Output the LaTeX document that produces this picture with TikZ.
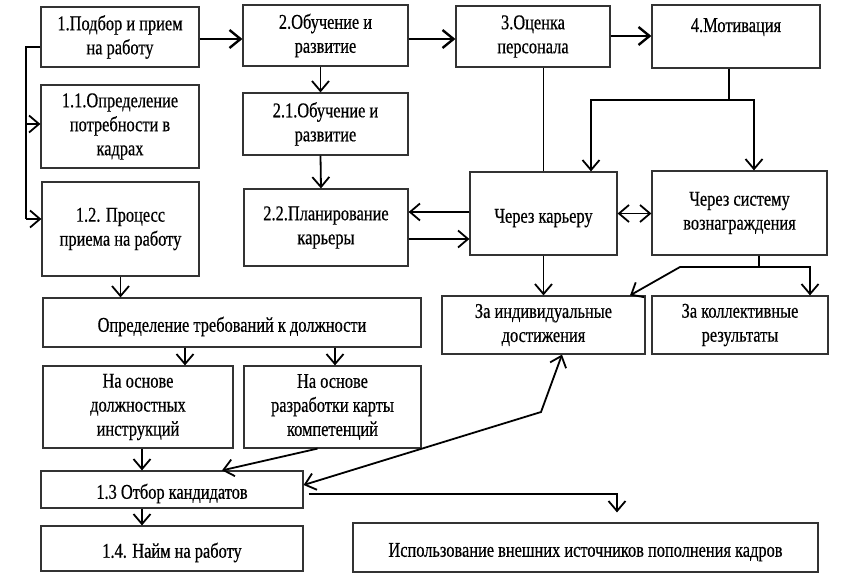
\documentclass[tikz,border=0pt]{standalone}
\usepackage{fontspec}
\setmainfont{Liberation Serif}[FakeStretch=0.78,FakeBold=0.5]
\usetikzlibrary{arrows.meta,calc}
\begin{document}
\begin{tikzpicture}[x=1pt,y=1pt,
  box/.style={draw=black!80, line width=1.2pt, align=center, inner sep=1pt,
    font=\fontsize{21}{24}\selectfont, execute at begin node={\rule{0pt}{23pt}}},
  tip/.style={Straight Barb[length=10pt,width=17pt,line width=1.8pt]},
  arr/.style={line width=1.8pt, -{Straight Barb[length=10pt,width=17pt,line width=1.8pt]}},
  thk/.style={line width=2.6pt, -{Straight Barb[length=11pt,width=18pt,line width=2.4pt]}},
  arrb/.style={line width=1.8pt, {Straight Barb[length=10pt,width=17pt,line width=1.8pt]}-{Straight Barb[length=10pt,width=17pt,line width=1.8pt]}},
  ln/.style={line width=1.8pt}]
\useasboundingbox (0,0) rectangle (866,-580);
% boxes
\node[box, minimum width=158, minimum height=60] (b1) at (120,-37) {1.Подбор и прием\\на работу};
\node[box, minimum width=158, minimum height=83] (b11) at (120,-126.5) {1.1.Определение\\потребности в\\кадрах};
\node[box, minimum width=157, minimum height=94] (b12) at (120.5,-229) {1.2. Процесс\\приема на работу};
\node[box, minimum width=165, minimum height=61] (b2) at (325.5,-35.5) {2.Обучение и\\развитие};
\node[box, minimum width=165, minimum height=62] (b21) at (325.5,-124) {2.1.Обучение и\\развитие};
\node[box, minimum width=164, minimum height=77] (b22) at (326,-227.5) {2.2.Планирование\\карьеры};
\node[box, minimum width=154, minimum height=61] (b3) at (533,-36.5) {3.Оценка\\персонала};
\node[box, minimum width=168, minimum height=63] (b4) at (736,-36.5) {4.Мотивация\rule[-32pt]{0pt}{32pt}};
\node[box, minimum width=147, minimum height=83] (bk) at (543.5,-213.5) {Через карьеру};
\node[box, minimum width=175, minimum height=84] (bv) at (739.5,-213) {Через систему\\вознаграждения};
\node[box, minimum width=203, minimum height=58] (bi) at (543.5,-325) {За индивидуальные\\достижения};
\node[box, minimum width=176, minimum height=58] (bc) at (740,-325) {За коллективные\\результаты};
\node[box, minimum width=378, minimum height=49] (bo) at (232,-322.5) {Определение требований к должности};
\node[box, minimum width=190, minimum height=82] (bn1) at (138,-407) {На основе\\должностных\\инструкций};
\node[box, minimum width=177, minimum height=82] (bn2) at (332.5,-407) {На основе\\разработки карты\\компетенций};
\node[box, minimum width=262, minimum height=37] (b13) at (172,-489.5) {1.3 Отбор кандидатов};
\node[box, minimum width=262, minimum height=45] (b14) at (172,-548.5) {1.4. Найм на работу};
\node[box, minimum width=465, minimum height=49] (be) at (585.5,-547.5) {Использование внешних источников пополнения кадров};
% coordinates
\coordinate (lt) at (26,-47);
\coordinate (lm) at (26,-124);
\coordinate (lb) at (26,-219);
\coordinate (mj) at (729,-100);
\coordinate (ka) at (591,-100);
\coordinate (va) at (754,-100);
\coordinate (r1) at (0,-212);
\coordinate (r2) at (0,-239);
\coordinate (vj) at (759,-267);
\coordinate (vl) at (680,-267);
\coordinate (vr) at (810,-267);
\coordinate (vtip) at (630,0);
\coordinate (xa) at (185,0);
\coordinate (xb) at (335,0);
\coordinate (kink) at (541,-412);
\coordinate (hr) at (0,-494);
\coordinate (hx) at (617,0);
% top row
\draw[thk] (b1.east |- 0,-39) -- (b2.west |- 0,-39);
\draw[thk] (b2.east |- 0,-39) -- (b3.west |- 0,-39);
\draw[thk] (b3.east |- 0,-36) -- (b4.west |- 0,-36);
% left bracket
\draw[ln] (lt -| b1.west) -- (lt) -- (lb);
\draw[arr] (lm) -- (lm -| b11.west);
\draw[arr] (lb) -- (lb -| b12.west);
% column 2
\draw[arr] ([xshift=-5pt]b2.south) -- ([xshift=-5pt]b21.north);
\draw[arr] ([xshift=-5pt]b21.south) -- ([xshift=-5pt]b22.north);
% column 3/4
\draw[ln] (b3.south -| bk.north) -- (bk.north);
\draw[ln] (b4.south -| mj) -- (mj);
\draw[arr] (mj) -- (ka) -- (ka |- bk.north);
\draw[arr] (mj) -- (va) -- (va |- bv.north);
\draw[arrb] (bk.east) -- (bk.east -| bv.west);
\draw[arr] (bk.west |- r1) -- (b22.east |- r1);
\draw[arr] (b22.east |- r2) -- (bk.west |- r2);
\draw[arr] (bk.south) -- (bk.south |- bi.north);
\draw[ln] (bv.south -| vj) -- (vj);
\draw[arr] (vj) -- (vr) -- (vr |- bc.north);
\draw[arr] (vj) -- (vl) -- (vtip |- bi.north);
% lower left
\draw[arr] (b12.south) -- (b12.south |- bo.north);
\draw[arr] (bo.south -| xa) -- (bn1.north -| xa);
\draw[arr] (bo.south -| xb) -- (bn2.north -| xb);
\draw[arr] (bn1.south -| 142,0) -- (b13.north -| 142,0);
\draw[arr] ([xshift=-15pt]bn2.south) -- ([xshift=50pt]b13.north);
\draw[arrb] ([yshift=4.5pt]b13.east) -- (kink) -- ([xshift=18.5pt]bi.south);
\draw[arr, shorten >=10pt] ([xshift=5pt]b13.east |- hr) -- (hx |- hr) -- (hx |- be.north);
\draw[arr] (b13.south -| 142,0) -- (b14.north -| 142,0);
\end{tikzpicture}
\end{document}
